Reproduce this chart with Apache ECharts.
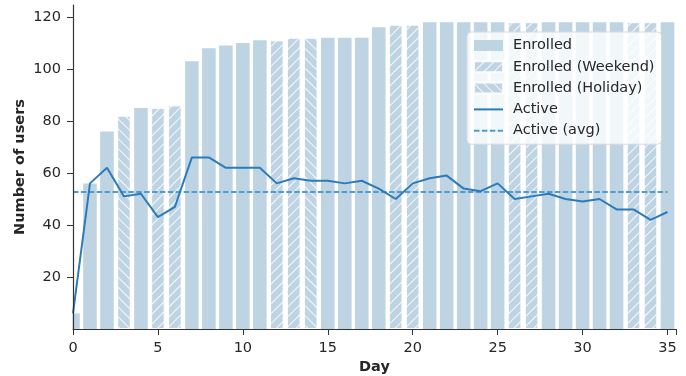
<!DOCTYPE html>
<html><head><meta charset="utf-8">
<script src="https://cdn.jsdelivr.net/npm/echarts@6/dist/echarts.min.js"></script>
<style>html,body{margin:0;padding:0;background:#fff}#c{width:686px;height:376px}</style>
</head><body><div id="c"></div>
<script>
const days = [0,1,2,3,4,5,6,7,8,9,10,11,12,13,14,15,16,17,18,19,20,21,22,23,24,25,26,27,28,29,30,31,32,33,34,35];
const enrolled = [6,56,76,82,85,85,86,103,108,109,110,111,111,112,112,112,112,112,116,117,117,118,118,118,118,118,118,118,118,118,118,118,118,118,118,118];
const active = [6,56,62,51,52,43,47,66,66,62,62,62,56,58,57,57,56,57,54,50,56,58,59,54,53,56,50,51,52,50,49,50,46,46,42,45];
const weekendDays = [5,6,12,13,19,20,26,27,33,34];
const holidayDays = [3,14];
const xTicks = [0,5,10,15,20,25,30,35];
const yTicks = [20,40,60,80,100,120];

const avgActive = active.reduce((a,b)=>a+b,0)/active.length;
const BAR = '#bfd4e3';
const LINE = '#2b7bba';
const AVG = '#4f9bd2';
const normalData = [], weekendData = [], holidayData = [];
days.forEach((d,i)=>{
  const p=[d,enrolled[i]];
  if (weekendDays.includes(d)) weekendData.push(p);
  else if (holidayDays.includes(d)) holidayData.push(p);
  else normalData.push(p);
});
const hatch = (rot)=>({symbol:'rect',symbolSize:1,color:'rgba(255,255,255,0.85)',dashArrayX:[1,0],dashArrayY:[1,5.4],rotation:rot});
const font = 'DejaVu Sans';
const FS = 14.5;
const GRID_LEFT = 73, GRID_BOTTOM = 47;
const chart = echarts.init(document.getElementById('c'),null,{renderer:'canvas'});
const barCommon = {type:'bar',barWidth:13.6,barGap:'-100%',z:1};
const hatchBorder = {borderColor:'rgba(255,255,255,0.6)',borderWidth:1};
chart.setOption({
  animation:false,
  textStyle:{fontFamily:font},
  grid:{left:GRID_LEFT,right:10,top:5,bottom:GRID_BOTTOM,containLabel:false,outerBoundsMode:'none'},
  graphic:[{type:'rect',z:1.5,silent:true,shape:{x:0,y:0,width:GRID_LEFT-0.5,height:376-GRID_BOTTOM+1},style:{fill:'#fff'}}],
  legend:{
    orient:'vertical',left:467,top:32,padding:[5,7,5,6],z:6,
    itemWidth:29,itemHeight:11,itemGap:4.3,
    backgroundColor:'rgba(255,255,255,0.8)',borderColor:'#d8d8d8',borderWidth:1,borderRadius:4,
    textStyle:{fontFamily:font,fontSize:FS,color:'#262626',padding:[0,0,0,5],lineHeight:17},
    data:[
      {name:'Enrolled',icon:'rect'},
      {name:'Enrolled (Weekend)',icon:'rect'},
      {name:'Enrolled (Holiday)',icon:'rect'},
      {name:'Active',itemStyle:{color:'rgba(0,0,0,0)',borderWidth:0,opacity:0}},
      {name:'Active (avg)',itemStyle:{color:'rgba(0,0,0,0)',borderWidth:0,opacity:0}}
    ]
  },
  xAxis:{
    type:'value',min:0,max:35.5,interval:5,z:5,
    name:'Day',nameLocation:'middle',nameGap:31,nameMoveOverlap:false,
    nameTextStyle:{fontFamily:font,fontSize:FS,fontWeight:'bold',color:'#262626'},
    axisLine:{show:true,lineStyle:{color:'#333',width:1.2}},
    axisTick:{show:true,length:6,lineStyle:{color:'#333',width:1}},
    axisLabel:{fontFamily:font,fontSize:FS,color:'#262626',margin:12,
      customValues:xTicks, formatter:v=>String(v)},
    splitLine:{show:false}
  },
  yAxis:{
    type:'value',min:0,max:124.6,interval:20,z:5,
    name:'Number of users',nameLocation:'middle',nameGap:45,nameMoveOverlap:false,
    nameTextStyle:{fontFamily:font,fontSize:FS,fontWeight:'bold',color:'#262626'},
    axisLine:{show:true,lineStyle:{color:'#333',width:1.2}},
    axisTick:{show:true,length:6,lineStyle:{color:'#333',width:1},customValues:yTicks},
    axisLabel:{fontFamily:font,fontSize:FS,color:'#262626',margin:12,
      customValues:yTicks, formatter:v=>String(v)},
    splitLine:{show:false}
  },
  series:[
    Object.assign({},barCommon,{name:'Enrolled',data:normalData,itemStyle:{color:BAR}}),
    Object.assign({},barCommon,{name:'Enrolled (Weekend)',data:weekendData,itemStyle:Object.assign({color:BAR,decal:hatch(-Math.PI/4)},hatchBorder)}),
    Object.assign({},barCommon,{name:'Enrolled (Holiday)',data:holidayData,itemStyle:Object.assign({color:BAR,decal:hatch(Math.PI/4)},hatchBorder)}),
    {name:'Active',type:'line',data:days.map((d,i)=>[d,active[i]]),symbol:'none',z:3,
      lineStyle:{color:LINE,width:2},itemStyle:{color:LINE}},
    {name:'Active (avg)',type:'line',data:[[0,avgActive],[35,avgActive]],symbol:'none',z:2,
      lineStyle:{color:AVG,width:1.8,type:[5.5,2.4]},itemStyle:{color:AVG}}
  ]
});
</script></body></html>
